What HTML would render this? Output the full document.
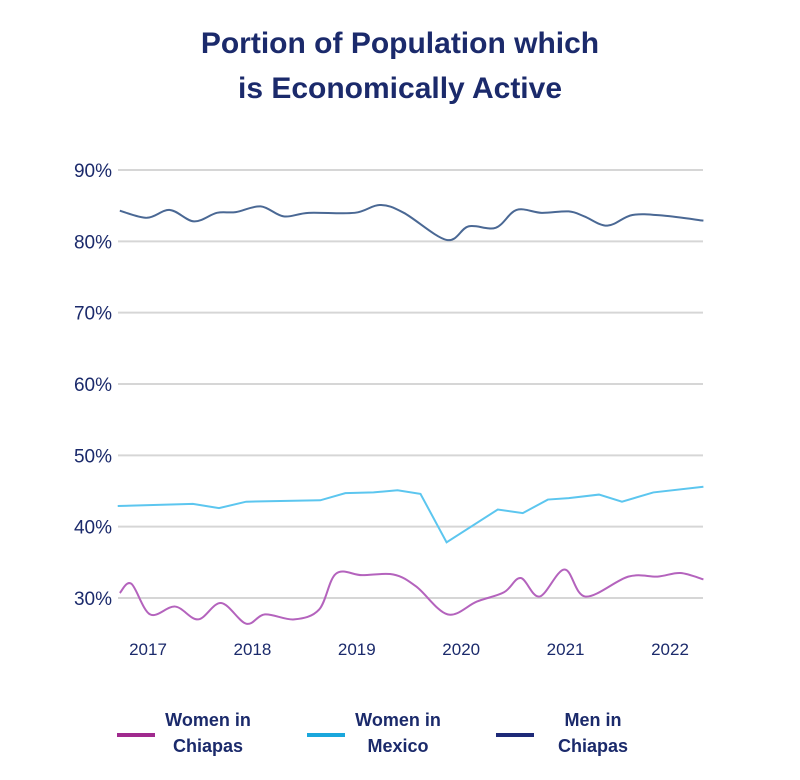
<!DOCTYPE html>
<html><head><meta charset="utf-8">
<style>
html,body{margin:0;padding:0;background:#fff;}
svg{display:block;font-family:"Liberation Sans",sans-serif;}
</style></head>
<body>
<svg id="chart" width="800" height="780">
<text x="400" y="53" text-anchor="middle" font-size="30" font-weight="bold" fill="#1b2a6b">Portion of Population which</text>
<text x="400" y="98" text-anchor="middle" font-size="30" font-weight="bold" fill="#1b2a6b">is Economically Active</text>
<g id="grid"></g>
<g id="yaxis"></g>
<g id="xaxis"></g>
<g id="series"></g>
<g font-size="18" font-weight="bold" fill="#1b2a6b" text-anchor="middle">
<g>
<rect x="117" y="733" width="38" height="4" fill="#a02a8e"/>
<text x="208" y="726">Women in</text><text x="208" y="752">Chiapas</text></g>
<g>
<rect x="307" y="733" width="38" height="4" fill="#1aa7dc"/>
<text x="398" y="726">Women in</text><text x="398" y="752">Mexico</text></g>
<g>
<rect x="496" y="733" width="38" height="4" fill="#1e2a78"/>
<text x="593" y="726">Men in</text><text x="593" y="752">Chiapas</text></g>
</g>
</svg>
<script>
const yTicks=[30,40,50,60,70,80,90];
const yTickLabels=["30%","40%","50%","60%","70%","80%","90%"];
const xTicks=[2017,2018,2019,2020,2021,2022];
const xTickLabels=["2017","2018","2019","2020","2021","2022"];
const menDates=[2016.73,2016.99,2017.21,2017.44,2017.66,2017.84,2018.08,2018.30,2018.54,2018.98,2019.22,2019.45,2019.86,2020.07,2020.33,2020.53,2020.77,2021.03,2021.18,2021.40,2021.64,2021.94,2022.32];
const menValues=[84.3,83.3,84.4,82.8,84.0,84.1,84.9,83.5,84.0,84.0,85.1,84.0,80.2,82.1,81.9,84.4,84.0,84.2,83.5,82.2,83.7,83.6,82.9];
const mexDates=[2016.71,2017.43,2017.68,2017.94,2018.65,2018.89,2019.16,2019.39,2019.61,2019.86,2020.35,2020.59,2020.83,2021.03,2021.32,2021.54,2021.84,2022.32];
const mexValues=[42.9,43.2,42.6,43.5,43.7,44.7,44.8,45.1,44.6,37.8,42.4,41.9,43.8,44.0,44.5,43.5,44.8,45.6];
const chiDates=[2016.73,2016.84,2017.02,2017.26,2017.48,2017.70,2017.94,2018.12,2018.40,2018.64,2018.80,2019.05,2019.35,2019.57,2019.87,2020.15,2020.41,2020.57,2020.75,2020.99,2021.19,2021.60,2021.88,2022.10,2022.32];
const chiValues=[30.7,32.0,27.7,28.8,27.0,29.3,26.4,27.7,27.0,28.4,33.4,33.2,33.3,31.6,27.7,29.5,30.8,32.8,30.2,34.0,30.2,33.0,33.0,33.5,32.6];

const NS="http://www.w3.org/2000/svg";
const X0=118,X1=703;
const xScale=d=>148+(d-2017)*104.4;
const yScale=v=>598-(v-30)*7.133;
function mk(tag,attrs,parent){const e=document.createElementNS(NS,tag);for(const k in attrs)e.setAttribute(k,attrs[k]);parent.appendChild(e);return e;}
const grid=document.getElementById('grid'),ya=document.getElementById('yaxis'),xa=document.getElementById('xaxis'),ser=document.getElementById('series');
yTicks.forEach((t,i)=>{
  const l=mk('line',{x1:X0,x2:X1,y1:yScale(t),y2:yScale(t),stroke:'#d6d6d6','stroke-width':2},grid);
  
  
  const tx=mk('text',{x:112,y:yScale(t)+7,'text-anchor':'end','font-size':19,fill:'#1b2a6b'},ya);
  tx.textContent=yTickLabels[i];
  
  
});
xTicks.forEach((t,i)=>{
  const tx=mk('text',{x:xScale(t),y:655,'text-anchor':'middle','font-size':17,fill:'#1b2a6b'},xa);
  tx.textContent=xTickLabels[i];
  
  
});
function pts(ds,vs){return ds.map((d,i)=>[xScale(d),yScale(vs[i])]);}
function smooth(p){let s=`M${p[0][0]},${p[0][1]}`;for(let i=0;i<p.length-1;i++){const p0=p[Math.max(0,i-1)],p1=p[i],p2=p[i+1],p3=p[Math.min(p.length-1,i+2)];
 const c1=[p1[0]+(p2[0]-p0[0])/6,p1[1]+(p2[1]-p0[1])/6],c2=[p2[0]-(p3[0]-p1[0])/6,p2[1]-(p3[1]-p1[1])/6];
 s+=` C${c1[0]},${c1[1]} ${c2[0]},${c2[1]} ${p2[0]},${p2[1]}`;}return s;}
function straight(p){return 'M'+p.map(q=>q[0]+','+q[1]).join(' L');}
const a=mk('path',{d:smooth(pts(menDates,menValues)),fill:'none',stroke:'#4a6894','stroke-width':2},ser);


const b=mk('path',{d:straight(pts(mexDates,mexValues)),fill:'none',stroke:'#5cc6ef','stroke-width':2},ser);


const c=mk('path',{d:smooth(pts(chiDates,chiValues)),fill:'none',stroke:'#b463bd','stroke-width':2},ser);


</script>
</body></html>
